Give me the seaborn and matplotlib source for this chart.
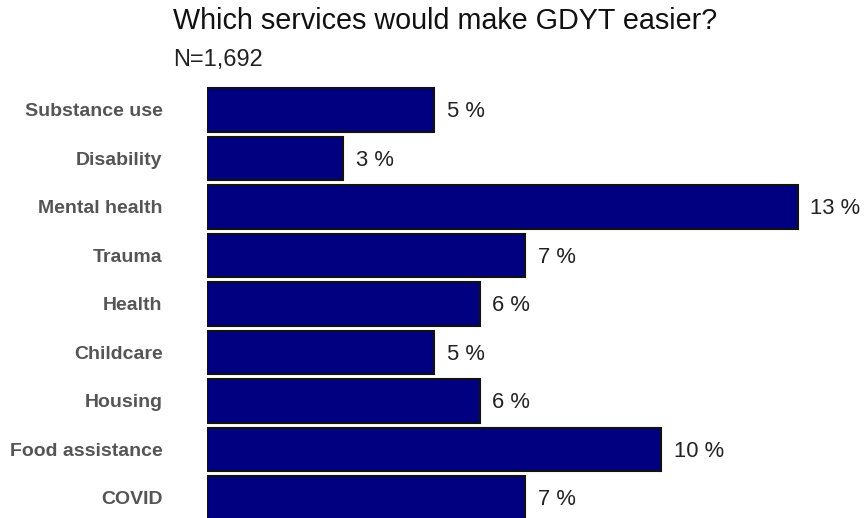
import pandas as pd
import matplotlib.pyplot as plt
import seaborn as sns

categories = ["Substance use", "Disability", "Mental health", "Trauma", "Health",
              "Childcare", "Housing", "Food assistance", "COVID"]
percents = [5, 3, 13, 7, 6, 5, 6, 10, 7]

df = pd.DataFrame({"service": categories, "pct": percents})

sns.set_theme(style="white")
plt.rcParams['font.family'] = ['Liberation Sans', 'DejaVu Sans']

fig = plt.figure(figsize=(8.64, 5.18), dpi=100)
ax = fig.add_axes([207 / 864, -0.0082, 636 / 864, 0.8427])

sns.barplot(data=df, y="service", x="pct", orient="h", color="#000080",
            saturation=1, edgecolor="#111111", linewidth=1.5, width=0.9, ax=ax)

for i, v in enumerate(percents):
    ax.text(v + 0.28, i + 0.04, f"{v} %", va="center", ha="left", fontsize=15.8, color="#222222")

ax.set_xlim(0, 14)
ax.set_ylim(len(categories) - 0.5, -0.5)
ax.set_xlabel("")
ax.set_ylabel("")
ax.set_xticks([])
ax.tick_params(axis="y", length=0, pad=32)
for lbl in ax.get_yticklabels():
    lbl.set_fontweight("bold")
    lbl.set_fontsize(14)
    lbl.set_color("#555555")
sns.despine(ax=ax, left=True, bottom=True)

fig.text(173 / 864, 1 - 21 / 518, "Which services would make GDYT easier?",
         ha="left", va="center", fontsize=20.7, color="#111111")
fig.text(173 / 864, 1 - 60 / 518, "N=1,692",
         ha="left", va="center", fontsize=17, color="#222222")

fig.savefig("out.png", dpi=100)
